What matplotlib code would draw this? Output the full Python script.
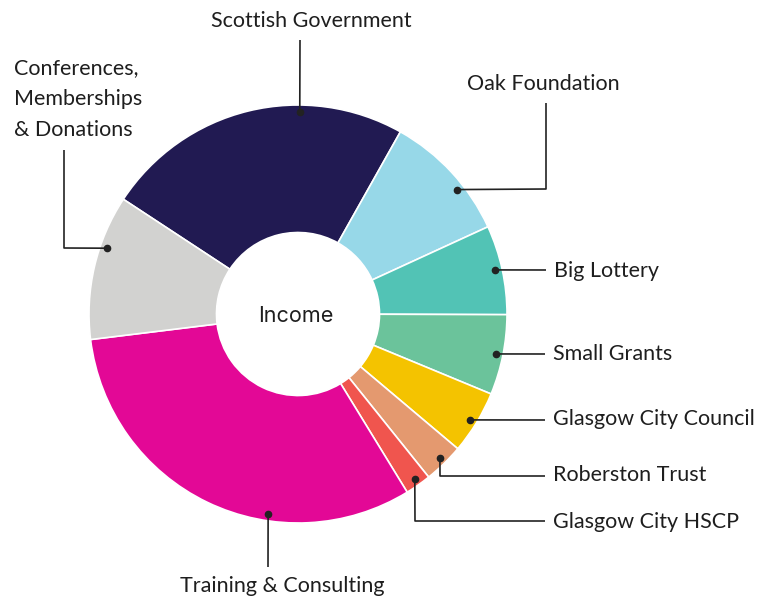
import numpy as np
import matplotlib.pyplot as plt

# income split (share of total, %)
sources = ['Scottish Government', 'Oak Foundation', 'Big Lottery', 'Small Grants',
           'Glasgow City Council', 'Roberston Trust', 'Glasgow City HSCP',
           'Training & Consulting', 'Conferences,\nMemberships\n& Donations']
shares = [23.9, 10.0, 6.9, 6.2, 4.9, 3.1, 2.0, 31.8, 11.2]
colours = ['#211a52', '#97d8e8', '#52c3b5', '#6bc39b', '#f4c300',
           '#e4996f', '#f0554e', '#e30896', '#d2d2d0']

W, H = 768, 598
cx, cy, R = 298, H - 314, 209

fig = plt.figure(figsize=(W / 100, H / 100), dpi=100)
ax = fig.add_axes([0, 0, 1, 1])
ax.pie(shares, colors=colours, startangle=146.7, counterclock=False,
       center=(cx, cy), radius=R,
       wedgeprops=dict(width=R * 0.61, edgecolor='white', linewidth=1.2))
ax.set_xlim(0, W)
ax.set_ylim(0, H)
ax.set_aspect('equal')
ax.axis('off')

ax.text(cx - 2, cy - 2, 'Income', ha='center', va='center', fontsize=15.5,
        family='Inter', color='#1e1e1e')

# callouts: angle of dot, elbow points (px from top), text pos, alignment
callouts = [
    (89.5, [(300, 40)], (311, 21), 'center'),
    (38, [(546, 189), (546, 103)], (543, 84), 'center'),
    (12.6, [(546, 270)], (554, 271), 'left'),
    (-11.4, [(545, 354)], (553, 354), 'left'),
    (-31.6, [(545, 420)], (553, 419), 'left'),
    (-45.4, [(440, 476), (545, 476)], (553, 475), 'left'),
    (-54.7, [(415, 521), (545, 521)], (553, 522), 'left'),
    (-98.5, [(268, 567)], (282, 586), 'center'),
    (161, [(64, 248), (64, 150)], (14, 99), 'left'),
]

for name, (ang, pts, tpos, ha) in zip(sources, callouts):
    dx = cx + 0.967 * R * np.cos(np.radians(ang))
    dy = cy + 0.967 * R * np.sin(np.radians(ang))
    xs = [dx] + [p[0] for p in pts]
    ys = [dy] + [H - p[1] for p in pts]
    ax.plot(xs, ys, color='#222222', lw=1.2, solid_capstyle='butt')
    ax.plot(dx, dy, 'o', color='#222222', ms=4.5)
    ax.text(tpos[0], H - tpos[1], name, ha=ha, va='center', fontsize=15.5,
            family='Lato', color='#1e1e1e', linespacing=1.68)

fig.savefig('out.png', dpi=100)
